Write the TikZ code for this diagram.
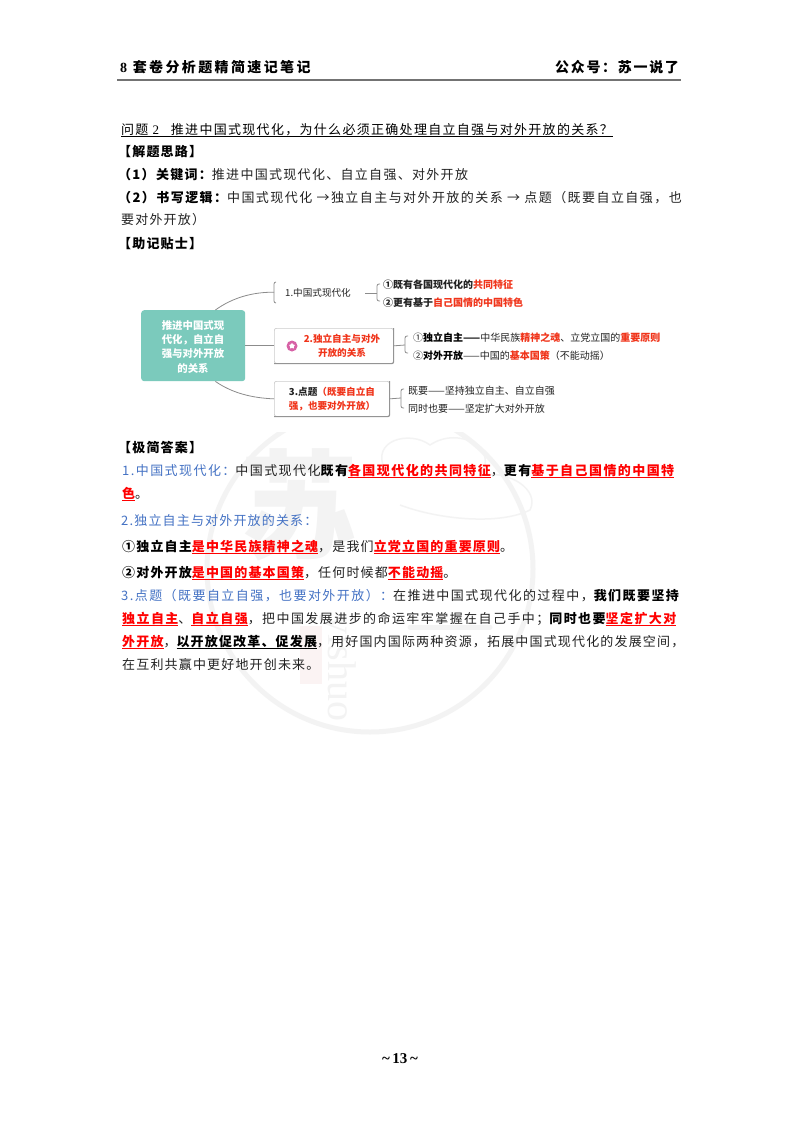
\documentclass[tikz,border=0pt]{standalone}
\usepackage{fontspec}
\usetikzlibrary{shapes.geometric,shadows}
\setmainfont{Noto Sans CJK SC}
\newfontfamily\fz{Noto Sans CJK SC}
\newfontfamily\fw[LetterSpace=9]{Noto Sans CJK SC}
\newfontfamily\fy[LetterSpace=10]{Noto Sans CJK SC}
\newfontfamily\fx[LetterSpace=11]{Noto Sans CJK SC}
\newfontfamily\fh[LetterSpace=17]{Noto Sans CJK SC}
\newfontfamily\fm[LetterSpace=12]{Noto Sans CJK SC}
\newfontfamily\lsf{Liberation Serif}
\newcommand{\zc}{^^^^ff0c}
\newcommand{\zk}{^^^^ff1a}
\newcommand{\zf}{^^^^ff1b}
\newcommand{\zl}{^^^^ff08}
\newcommand{\zr}{^^^^ff09}
\newcommand{\zq}{^^^^ff1f}
\definecolor{redt}{HTML}{FF0000}
\definecolor{bluet}{HTML}{4472C4}
\definecolor{ink}{HTML}{222222}
\definecolor{mapred}{HTML}{F0341A}
\definecolor{teal1}{HTML}{7BCABC}
\definecolor{wm}{HTML}{F3F3F3}
\definecolor{seal}{HTML}{FBF3F3}
\newcommand{\ulc}[1]{\leavevmode\setbox0\hbox{#1}\rlap{\rule[-3pt]{\wd0}{0.9pt}}\box0}
\newcommand{\rd}[1]{{\bfseries\color{redt}\ulc{#1}}}
\newcommand{\bk}[1]{{\bfseries\color{black}#1}}
\newcommand{\mr}[1]{{\bfseries\color{mapred}#1}}
\tikzset{
  txt/.style={anchor=base west,inner sep=0pt,text=ink,font=\fontsize{13}{15}\fw},
  bodyl/.style={anchor=base west,inner sep=0pt,text=ink,font=\fontsize{13}{15}\fw},
  bodyy/.style={anchor=base west,inner sep=0pt,text=ink,font=\fontsize{13}{15}\fy},
  bodyx/.style={anchor=base west,inner sep=0pt,text=ink,font=\fontsize{13}{15}\fx},
  small/.style={anchor=base west,inner sep=0pt,text=ink,font=\fontsize{10}{12}\fz},
  roottext/.style={anchor=base,inner sep=0pt,text=white,font=\fontsize{10.4}{12}\fz\bfseries},
  boxtext/.style={anchor=base,inner sep=0pt,font=\fontsize{9.6}{11}\fz\bfseries,text=mapred},
  mapbox/.style={draw=black!20,line width=0.7pt,rounded corners=2pt,fill=white,anchor=north west,inner sep=0pt},
  conn/.style={draw=black!45,line width=0.8pt},
  boxedge/.style={draw=black!42,line width=1pt,rounded corners=2pt}
}
\begin{document}
\begin{tikzpicture}[x=1pt,y=-1pt]
\useasboundingbox (0,0) rectangle (800,1132);
\fill[white] (0,0) rectangle (800,1132);
% watermark
\begin{scope}
\clip (150,432) rectangle (600,760);
\draw[wm,line width=5pt] (370,569) circle (163);
\node[anchor=center,text=wm,font=\fontsize{118}{118}\fz\bfseries,inner sep=0pt] (wmsu) at (299,505) {苏};
\fill[seal] (300,626) rectangle (322,684);
\node[anchor=center,rotate=-90,text=wm,font=\fontsize{40}{40}\lsf,inner sep=0pt] (wmname) at (338,668) {yishuo};
\draw[wm,line width=1.5pt] (385,470) .. controls (370,440) and (410,430) .. (430,445) .. controls (460,425) and (500,450) .. (480,475) .. controls (510,470) and (540,490) .. (530,510) .. controls (500,525) and (440,520) .. (400,505);
\draw[wm,line width=5pt,line cap=round] (410,627) -- (490,627);
\end{scope}
% header
\node[txt,font=\fontsize{14}{16}\fh\bfseries,text=black] (h1) at (120,73) {{\lsf\bfseries 8} 套卷分析题精简速记笔记};
\node[txt,font=\fontsize{14}{16}\fm\bfseries,text=black] (h2) at (555,73) {公众号\zk{}苏一说了};
\draw[black!55,line width=1.5pt] (117,80) -- (681,80);
% question
\node[bodyy,text=black] (q) at (121,134) {\ulc{问题 {\lsf 2}\hspace{0.9em}推进中国式现代化\zc{}为什么必须正确处理自立自强与对外开放的关系\zq{}}};
\node[txt,text=black] (s1) at (118,156) {\bfseries 【解题思路】};
\node[bodyy] (s2) at (118,179) {\bk{\zl{}1\zr{}关键词\zk{}}推进中国式现代化、自立自强、对外开放};
\node[bodyx] (s3) at (118,202) {\bk{\zl{}2\zr{}书写逻辑\zk{}}中国式现代化 →独立自主与对外开放的关系 → 点题\zl{}既要自立自强\zc{}也};
\node[txt] (s4) at (121,224) {要对外开放\zr{}};
\node[txt,text=black] (s5) at (118,248) {\bfseries 【助记贴士】};
% map
\node[fill=teal1,rounded corners=3pt,minimum width=104pt,minimum height=71pt,inner sep=0pt,anchor=north west] (root) at (141,310) {};
\node[roottext] (rt1) at (193,329) {推进中国式现};
\node[roottext] (rt2) at (193,343) {代化\zc{}自立自};
\node[roottext] (rt3) at (193,357) {强与对外开放};
\node[roottext] (rt4) at (193,372) {的关系};
\node[draw=none,fill=white,anchor=north west,minimum width=90pt,minimum height=22pt,inner sep=0pt] (n1) at (274,281) {};
\node[mapbox,minimum width=119pt,minimum height=35pt] (n2) at (274,328) {};
\node[mapbox,minimum width=115pt,minimum height=35pt] (n3) at (274,381) {};
\draw[boxedge] (n2.south west) -- (n2.south east) -- (n2.north east);
\draw[boxedge] (n3.south west) -- (n3.south east) -- (n3.north east);
\draw[conn,rounded corners=2pt] (276,282) -- (274,282) -- (274,303) -- (276,303);
\draw[conn] (root.north east) ++(-30,0) .. controls (232,298) and (252,292) .. (n1.west);
\draw[conn] (root.east |- n2.west) -- (n2.west);
\draw[conn] (root.south east) ++(-30,0) .. controls (232,393) and (252,398) .. (n3.west);
\node[anchor=base,inner sep=0pt,text=ink,font=\fontsize{9.6}{11}\fz] (n1t) at (318,296) {1.中国式现代化};
\node[circle,fill=magenta!60!violet!70,minimum size=11pt,inner sep=0pt] (ic) at (292,346) {};
\node[star,star points=5,fill=white,minimum size=6pt,inner sep=0pt] (ics) at (ic.center) {};
\node[boxtext] (n2a) at (342,342) {2.独立自主与对外};
\node[boxtext] (n2b) at (342,356) {开放的关系};
\node[boxtext] (n3a) at (332,395) {{\color{ink}3.点题}\zl{}既要自立自};
\node[boxtext] (n3b) at (332,409) {强\zc{}也要对外开放\zr{}};
% brackets
\coordinate (b1) at (377,293);
\coordinate (b2) at (405,345);
\coordinate (b3) at (401,398);
\draw[conn] (365,293) -- (b1);
\draw[conn,rounded corners=2pt] (380,284) -- (377,284) -- (377,301) -- (380,301);
\draw[conn] (n2.east) -- (b2);
\draw[conn,rounded corners=2pt] (408,336) -- (405,336) -- (405,353) -- (408,353);
\draw[conn] (n3.east) -- (b3);
\draw[conn,rounded corners=2pt] (404,389) -- (401,389) -- (401,408) -- (404,408);
\node[small] (m1) at (383,288) {\bfseries ①既有各国现代化的\mr{共同特征}};
\node[small] (m2) at (383,306) {\bfseries ②更有基于\mr{自己国情的中国特色}};
\node[small] (m3) at (413,341) {①\bk{独立自主——}中华民族\mr{精神之魂}、立党立国的\mr{重要原则}};
\node[small] (m4) at (413,359) {②\bk{对外开放}——中国的\mr{基本国策}\zl{}不能动摇\zr{}};
\node[small] (m5) at (408,394) {既要——坚持独立自主、自立自强};
\node[small] (m6) at (408,412) {同时也要——坚定扩大对外开放};
% answer
\node[txt,text=black] (a0) at (118,452) {\bfseries 【极简答案】};
\node[bodyx] (a1) at (122,475) {{\color{bluet}1.中国式现代化\zk{}}中国式现代化\bk{既有}\rd{各国现代化的共同特征}\zc{}\bk{更有}\rd{基于自己国情的中国特}};
\node[bodyl] (a2) at (122,498) {\rd{色}。};
\node[bodyl,text=bluet] (a3) at (121,525) {2.独立自主与对外开放的关系\zk{}};
\node[bodyl] (a4) at (122,551) {\bk{①独立自主}\rd{是中华民族精神之魂}\zc{}是我们\rd{立党立国的重要原则}。};
\node[bodyl] (a5) at (122,577) {\bk{②对外开放}\rd{是中国的基本国策}\zc{}任何时候都\rd{不能动摇}。};
\node[bodyx] (a6) at (121,600) {{\color{bluet}3.点题\zl{}既要自立自强\zc{}也要对外开放\zr{}\zk{}}在推进中国式现代化的过程中\zc{}\bk{我们既要坚持}};
\node[bodyx] (a7) at (122,623) {\rd{独立自主}、\rd{自立自强}\zc{}把中国发展进步的命运牢牢掌握在自己手中\zf{}\bk{同时也要}\rd{坚定扩大对}};
\node[bodyl] (a8) at (122,646) {\rd{外开放}\zc{}{\bfseries\color{black}\ulc{以开放促改革、促发展}}\zc{}用好国内国际两种资源\zc{}拓展中国式现代化的发展空间\zc{}};
\node[bodyl] (a9) at (122,669) {在互利共赢中更好地开创未来。};
% footer
\node[anchor=base,inner sep=0pt,font=\fontsize{15}{17}\lsf\bfseries,text=black] (pg) at (400,1063) {\textasciitilde\,13\,\textasciitilde};
\end{tikzpicture}
\end{document}
